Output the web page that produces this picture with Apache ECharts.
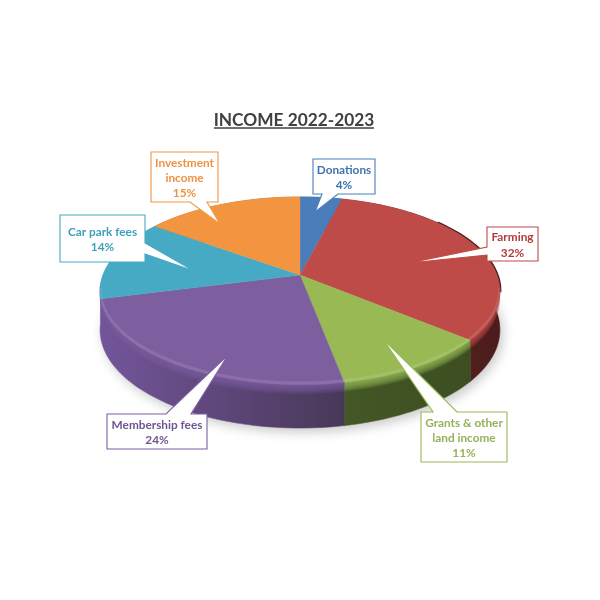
<!DOCTYPE html>
<html><head><meta charset="utf-8">
<style>html,body{margin:0;padding:0;background:#fff}#c{width:600px;height:600px}</style>
<script src="https://cdn.jsdelivr.net/npm/echarts@6/dist/echarts.min.js"></script>
</head><body><div id="c"></div>
<script>
const categories = ['Donations','Farming','Grants & other land income','Membership fees','Car park fees','Investment income'];
const calloutLabels = ['Donations','Farming','Grants & other\nland income','Membership fees','Car park fees','Investment\nincome'];
const shares = [4,32,11,24,14,15];
const titleText = 'INCOME 2022-2023';

const faceColors = ['#4a7ebb','#be4b48','#98b954','#7d5fa0','#46aac5','#f39540'];
const textColors = ['#3f72b0','#b03c3a','#93b25a','#6f5492','#3d9fba','#ef9142'];
const sideStops = [
  ['#33588a','#33588a'],['#6a2a28','#4a1c1b'],['#445726','#3d4e22'],
  ['#73559a','#483858'],['#46aac5','#46aac5'],['#a8652a','#a8652a']
];
// callout layout: box [x0,y0,x1,y1], side of the tail, tail [base, tip, base]
const calloutBoxes = [[313,159,375,194],[487,227,538,261],[421,412,507,462],[107,414,207,449],[60,215,145,262],[151,152,218,202]];
const calloutSides = ['bottom','left','top','top','right','bottom'];
const calloutTails = [
  [[338,194],[315,212],[322,194]],
  [[487,255],[409,263],[487,247]],
  [[433,412],[383,339],[457,412]],
  [[166,414],[228,355],[191,414]],
  [[145,243],[194,271],[145,254]],
  [[207,202],[220,224],[190,202]]
];
// pie projection
const cx = 300, cy = 275, A = 197, B = 91.3, P = 0.17;
const cum = []; shares.reduce((s,v,i)=>(cum[i]=s,s+v),0);
const total = shares.reduce((a,b)=>a+b,0);
function proj(f){ const t=f/total*2*Math.PI,u=Math.sin(t),v=-Math.cos(t),d=1-P*v; return {x:cx+A*u/d,y:cy+B*v/d,v}; }
function depth(v){ return 38+5*v; }
function arc(a,b,fn){ const n=Math.max(3,Math.ceil((b-a)*2)),o=[]; for(let i=0;i<=n;i++){ o.push(fn(proj(a+(b-a)*i/n))); } return o; }

function renderPie(params, api){
  const i = params.dataIndex, val = api.value(1), s = cum[i], e = s+val;
  const C = p=>api.coord(p);
  const kids=[];
  const sideEnd = i===3? e+2.2 : e;
  const topEdge = arc(s,sideEnd,p=>[p.x,p.y]);
  const low = arc(s,sideEnd,p=>[p.x,p.y+(i===4?5:depth(p.v))]).reverse();
  const grad = {type:'linear',x:0,y:0,x2:1,y2:0,colorStops:[{offset:0,color:sideStops[i][0]},{offset:1,color:sideStops[i][1]}]};
  kids.push({type:'polygon',z2:i===3?1.5:1,shape:{points:topEdge.concat(low).map(C)},style:{fill:grad,stroke:grad,lineWidth:0.6}});
  for(let k=9;k>=1;k--){
    const lo = arc(s,sideEnd,p=>[p.x,p.y+k]).reverse();
    kids.push({type:'polygon',z2:2,shape:{points:topEdge.concat(lo).map(C)},style:{fill:faceColors[i],opacity:i===4?0:0.16}});
  }
  const faceEdge = arc(s,e,p=>[p.x,p.y]);
  if(i===1){
    const rim = arc(s+10,e-8,p=>p).filter(p=>p.v<0.3).map(p=>[p.x+0.7,p.y-0.3]);
    kids.push({type:'polyline',z2:2,shape:{points:rim.map(C)},style:{stroke:'#4a1c1b',lineWidth:1.6,fill:null}});
  }
  kids.push({type:'polygon',z2:3,shape:{points:[[cx,cy]].concat(faceEdge).map(C)},style:{fill:faceColors[i],stroke:faceColors[i],lineWidth:0.4}});
  const hi = arc(s,e,p=>p).filter(p=>p.v>0.15).map(p=>[p.x,p.y-2]);
  if(hi.length>1) kids.push({type:'polyline',z2:4,shape:{points:hi.map(C)},style:{stroke:'#ffffff',opacity:0.1,lineWidth:3,fill:null}});
  return {type:'group',children:kids};
}
function renderShadow(params, api){
  const pts = arc(0,total,p=>[p.x,p.y+depth(p.v)]);
  return {type:'polygon',shape:{points:pts.map(p=>api.coord(p))},
    style:{fill:'#ffffff',shadowBlur:12,shadowColor:'rgba(0,0,0,0.22)',shadowOffsetX:3,shadowOffsetY:4}};
}
function renderCallout(params, api){
  const i=params.dataIndex, b=calloutBoxes[i], t=calloutTails[i], side=calloutSides[i];
  const TL=[b[0],b[1]],TR=[b[2],b[1]],BR=[b[2],b[3]],BL=[b[0],b[3]];
  const pts = side==='top'?[TL,...t,TR,BR,BL]:side==='right'?[TL,TR,...t,BR,BL]:side==='bottom'?[TL,TR,BR,...t,BL]:[TL,TR,BR,BL,...t];
  const c = api.coord([(b[0]+b[2])/2,(b[1]+b[3])/2+1.2]);
  return {type:'group',children:[
    {type:'polygon',shape:{points:pts.map(p=>api.coord(p))},style:{fill:'#fff',stroke:faceColors[i],lineWidth:1.1,lineJoin:'miter'}},
    {type:'text',style:{x:c[0],y:c[1],text:calloutLabels[i]+'\n'+api.value(1)+'%',fill:textColors[i],align:'center',verticalAlign:'middle',
      font:'bold 11.8px Lato',lineHeight:15.3}}
  ]};
}
const rows = categories.map((n,i)=>[n,shares[i]]);
const chart = echarts.init(document.getElementById('c'),null,{renderer:'canvas'});
chart.setOption({
  animation:false, backgroundColor:'#fff',
  title:{text:titleText,left:289,textAlign:'center',top:107,textStyle:{fontFamily:'Lato',fontWeight:'bold',fontSize:17.3,color:'#404040'}},
  graphic:[{type:'line',shape:{x1:214,y1:128,x2:374,y2:128},style:{stroke:'#404040',lineWidth:1.5}}],
  grid:{left:0,right:0,top:0,bottom:0},
  xAxis:{type:'value',min:0,max:600,show:false},
  yAxis:{type:'value',min:0,max:600,inverse:true,show:false},
  series:[
    {type:'custom',z:1,silent:true,coordinateSystem:'cartesian2d',data:[[0,0]],renderItem:renderShadow},
    {type:'custom',z:2,silent:true,coordinateSystem:'cartesian2d',data:rows,encode:{x:-1,y:-1},renderItem:renderPie,dimensions:['name','share']},
    {type:'custom',z:3,silent:true,coordinateSystem:'cartesian2d',data:rows,encode:{x:-1,y:-1},renderItem:renderCallout,dimensions:['name','share']}
  ]
});
</script></body></html>
